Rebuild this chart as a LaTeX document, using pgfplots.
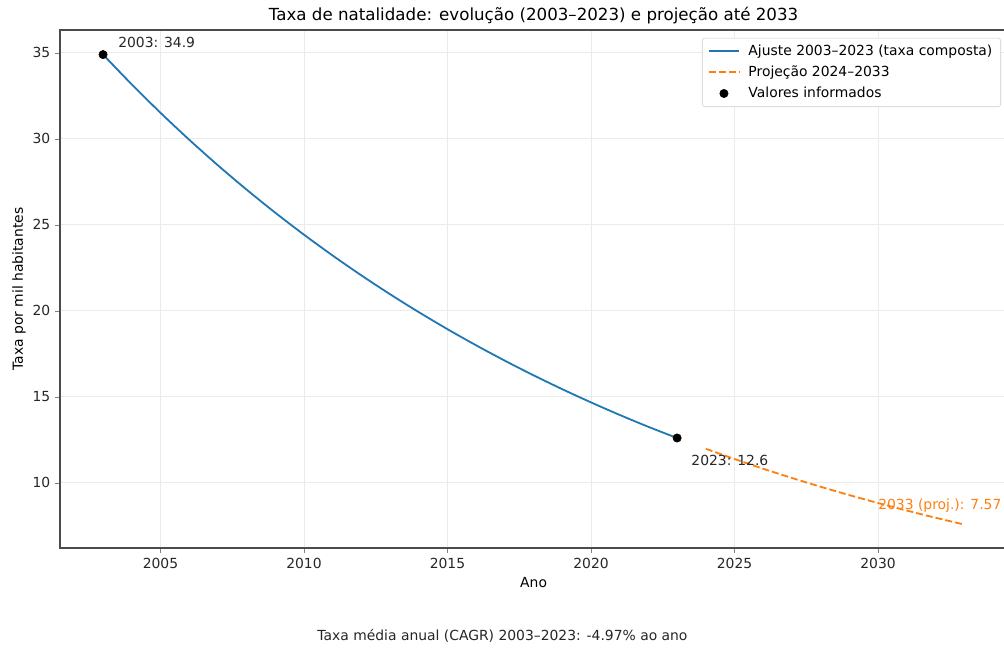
\documentclass[border=0pt]{standalone}
\usepackage{pgfplots}
\pgfplotsset{compat=1.18}
\usepackage{fontspec}
\setmainfont{DejaVu Sans}
\definecolor{mplblue}{HTML}{1F77B4}
\definecolor{mplorange}{HTML}{FF7F0E}
\definecolor{gridgray}{HTML}{EBEBEB}
\pgfplotsset{
    blueleg/.style={legend image code/.code={\draw[mplblue, line width=1.3pt] (0pt,0pt) -- (22pt,0pt); \path (26pt,0pt);}},
    orangeleg/.style={legend image code/.code={\draw[mplorange, line width=1.3pt, dash pattern=on 5pt off 2.2pt] (0pt,0pt) -- (22pt,0pt); \path (26pt,0pt);}},
    dotleg/.style={legend image code/.code={\fill[black] (11pt,0pt) circle (3pt); \path (0pt,0pt) (26pt,0pt);}},
}

\begin{document}
\begin{tikzpicture}
\begin{axis}[
    scale only axis,
    width=682pt, height=373pt,
    xmin=2001.5, xmax=2034.5,
    ymin=6.2, ymax=36.33,
    xtick={2005,2010,2015,2020,2025,2030},
    ytick={10,15,20,25,30,35},
    /pgf/number format/1000 sep={},
    /pgf/number format/assume math mode=true,
    tick label style={font=\fontsize{10}{12}\selectfont, text=black!85},
    tick align=outside,
    tick pos=left,
    major tick length=3.5pt,
    grid=major,
    major grid style={gridgray, line width=0.6pt},
    axis line style={black!70, line width=0.8pt},
    xlabel={Ano},
    ylabel={Taxa por mil habitantes},
    label style={font=\fontsize{10}{12}\selectfont},
    ylabel style={yshift=-2pt},
    title={Taxa de natalidade: evolução (2003–2023) e projeção até 2033},
    title style={font=\fontsize{12}{14}\selectfont, yshift=-5pt},
    legend cell align=left,
    legend style={font=\fontsize{10}{12}\selectfont, draw=black!20, rounded corners=2pt,
        fill=white, inner xsep=4pt, inner ysep=3pt,
        row sep=2pt, at={(0.9935,0.985)}, anchor=north east},
]
\addplot[mplblue, line width=1.3pt, smooth, blueleg] coordinates {
(2003,34.900) (2004,33.166) (2005,31.517) (2006,29.951) (2007,28.462)
(2008,27.048) (2009,25.703) (2010,24.426) (2011,23.212) (2012,22.058)
(2013,20.962) (2014,19.920) (2015,18.930) (2016,17.989) (2017,17.095)
(2018,16.246) (2019,15.438) (2020,14.671) (2021,13.942) (2022,13.249)
(2023,12.600)};
\addlegendentry{Ajuste 2003–2023 (taxa composta)}
\addplot[mplorange, line width=1.3pt, dash pattern=on 5pt off 2.2pt, smooth, orangeleg] coordinates {
(2024,11.974) (2025,11.379) (2026,10.813) (2027,10.276) (2028,9.765)
(2029,9.280) (2030,8.819) (2031,8.381) (2032,7.964) (2033,7.568)};
\addlegendentry{Projeção 2024–2033}
\addplot[only marks, mark=*, mark size=3pt, black, dotleg] coordinates {(2003,34.9) (2023,12.6)};
\addlegendentry{Valores informados}
\node[anchor=west, font=\fontsize{10}{12}\selectfont, text=black!85, inner sep=0pt] at (axis cs:2003.52,35.6) {2003: 34.9};
\node[anchor=west, font=\fontsize{10}{12}\selectfont, text=black!85, inner sep=0pt] at (axis cs:2023.49,11.28) {2023: 12.6};
\node[anchor=west, font=\fontsize{10}{12}\selectfont, text=mplorange, inner sep=0pt] at (axis cs:2030.0,8.67) {2033 (proj.): 7.57};
\end{axis}
\node[font=\fontsize{10}{12}\selectfont, text=black!85] at (318.6pt,-63pt) {Taxa média anual (CAGR) 2003–2023: -4.97\% ao ano};
\pgfresetboundingbox
\useasboundingbox (-43.2pt,-72pt) rectangle (679.7pt,394.6pt);
\end{tikzpicture}
\end{document}
